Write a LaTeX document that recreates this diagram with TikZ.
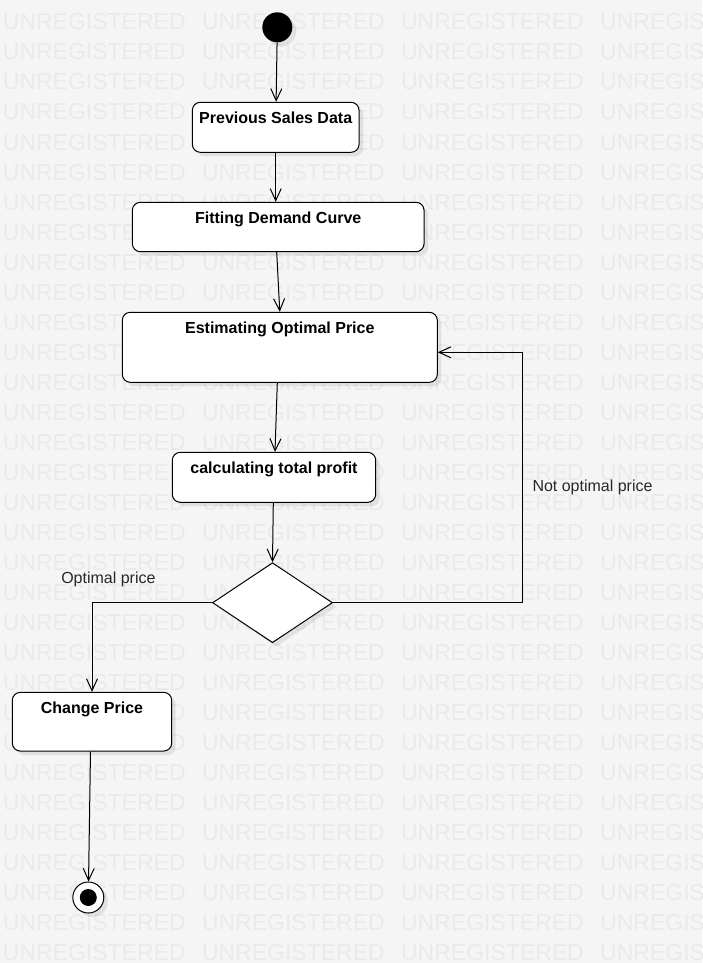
\documentclass[tikz,border=0pt]{standalone}
\usepackage{fontspec}
\setmainfont{Liberation Sans}
\usetikzlibrary{arrows.meta,shapes.geometric,shadows,calc}
\definecolor{bg}{RGB}{245,245,245}
\definecolor{wm}{RGB}{234,234,234}
\definecolor{lbl}{RGB}{40,40,40}
\tikzset{
  shade/.style={drop shadow={shadow xshift=4pt,shadow yshift=-4pt,fill=black,opacity=0.08}},
  actbox/.style={draw=black,line width=1pt,fill=white,rounded corners=8pt,shade,
    font=\fontsize{16}{19}\selectfont\bfseries,inner xsep=0pt,inner ysep=0pt,text height=21pt},
  flow/.style={draw=black,line width=1pt,-{Straight Barb[length=12pt,width=11pt,line width=1pt]}},
  guard/.style={font=\fontsize{16}{19}\selectfont,text=lbl,inner sep=0pt},
  wmark/.style={font=\fontsize{23}{27}\selectfont,text=wm,inner sep=0pt,anchor=base west}
}
\begin{document}
\begin{tikzpicture}[x=1pt,y=-1pt]
\useasboundingbox (0,0) rectangle (702,963);
\fill[bg] (0,0) rectangle (702,963);
\begin{scope}
\clip (0,0) rectangle (702,963);
\foreach \r in {0,...,31}{
  \foreach \c in {0,...,3}{
    \node[wmark] (wm-\r-\c) at ({2.7+199.1*\c},{30+30*\r}) {UNREGISTERED};
  }
}
\end{scope}

% start
\node[circle,fill=black,minimum size=30pt,inner sep=0pt,shade] (start) at (277.3,27.3) {};

% activities
\node[actbox,minimum width=166.7pt,text depth=29pt] (b1) at (275.7,127.3) {Previous Sales Data};
\node[actbox,minimum width=291.7pt,text depth=28.4pt] (b2) at (278.2,227) {Fitting Demand Curve};
\node[actbox,minimum width=315pt,text depth=49pt] (b3) at (279.8,347.3) {Estimating Optimal Price};
\node[actbox,minimum width=203.4pt,text depth=29pt] (b4) at (274,477.3) {calculating total profit};
\node[actbox,minimum width=159.4pt,text depth=37.7pt] (b5) at (92,721.7) {Change Price};

% decision
\node[diamond,draw=black,line width=1pt,fill=white,minimum width=120pt,minimum height=80pt,inner sep=0pt,shade] (dec) at (272.5,602.7) {};

% end
\node[circle,draw=black,line width=1pt,fill=white,minimum size=31pt,inner sep=0pt,shade] (end) at (88.3,897.5) {};
\node[circle,fill=black,minimum size=17pt,inner sep=0pt] (endin) at (end) {};

% helper coordinates
\coordinate (r1) at (522.3,602.7);
\coordinate (r2) at (522.3,352.3);

% flows
\draw[flow] (start) -- (b1);
\draw[flow] (b1.south) -- (b1.south |- b2.north);
\draw[flow] ($(b2.south)+(-1.5,0)$) -- (b3.north);
\draw[flow] ($(b3.south)+(-2.5,0)$) -- ($(b4.north)+(1,0)$);
\draw[flow] ($(b4.south)+(-0.7,0)$) -- (dec.north);
\draw[flow] (dec.west) -| (b5.north);
\draw[flow] (dec.east) -- (r1) -- (r2) -- (b3.east |- r2);
\draw[flow] ($(b5.south)+(-1.5,0)$) -- (end);

% guards
\node[guard] (gopt) at (108.4,579) {Optimal price};
\node[guard,anchor=west] (gnot) at (532.3,487.3) {Not optimal price};
\end{tikzpicture}
\end{document}
